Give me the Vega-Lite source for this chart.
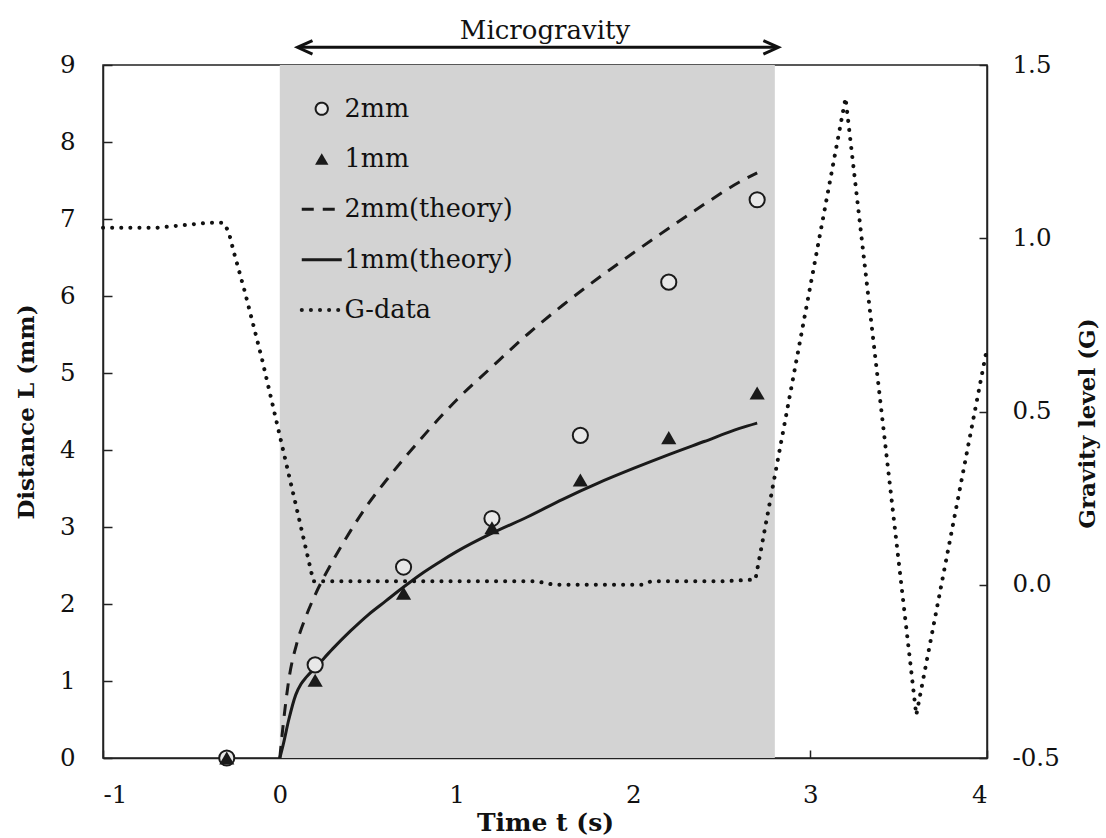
{
  "$schema": "https://vega.github.io/schema/vega-lite/v6.json",
  "width": 884,
  "height": 693,
  "autosize": {"type": "none"},
  "padding": {"left": 103, "top": 65, "right": 119, "bottom": 80},
  "background": "white",
  "title": {"text": "Microgravity", "frame": "group", "anchor": "middle", "offset": -30, "baseline": "alphabetic", "font": "DejaVu Serif", "fontSize": 26, "fontWeight": "normal", "color": "#111"},
  "datasets": {
    "points": [
      {"t": -0.3, "L": 0, "series": "2mm"},
      {"t": 0.2, "L": 1.21, "series": "2mm"},
      {"t": 0.7, "L": 2.48, "series": "2mm"},
      {"t": 1.2, "L": 3.11, "series": "2mm"},
      {"t": 1.7, "L": 4.19, "series": "2mm"},
      {"t": 2.2, "L": 6.18, "series": "2mm"},
      {"t": 2.7, "L": 7.25, "series": "2mm"},
      {"t": -0.3, "L": 0, "series": "1mm"},
      {"t": 0.2, "L": 1.01, "series": "1mm"},
      {"t": 0.7, "L": 2.14, "series": "1mm"},
      {"t": 1.2, "L": 2.99, "series": "1mm"},
      {"t": 1.7, "L": 3.61, "series": "1mm"},
      {"t": 2.2, "L": 4.16, "series": "1mm"},
      {"t": 2.7, "L": 4.74, "series": "1mm"}
    ],
    "theory": [
      {"t": 0, "L": 0, "series": "2mm(theory)"},
      {"t": 0.02, "L": 0.45, "series": "2mm(theory)"},
      {"t": 0.05, "L": 1.0, "series": "2mm(theory)"},
      {"t": 0.1, "L": 1.52, "series": "2mm(theory)"},
      {"t": 0.15, "L": 1.85, "series": "2mm(theory)"},
      {"t": 0.2, "L": 2.12, "series": "2mm(theory)"},
      {"t": 0.3, "L": 2.56, "series": "2mm(theory)"},
      {"t": 0.4, "L": 2.95, "series": "2mm(theory)"},
      {"t": 0.5, "L": 3.3, "series": "2mm(theory)"},
      {"t": 0.6, "L": 3.6, "series": "2mm(theory)"},
      {"t": 0.8, "L": 4.15, "series": "2mm(theory)"},
      {"t": 1.0, "L": 4.65, "series": "2mm(theory)"},
      {"t": 1.2, "L": 5.08, "series": "2mm(theory)"},
      {"t": 1.4, "L": 5.5, "series": "2mm(theory)"},
      {"t": 1.6, "L": 5.88, "series": "2mm(theory)"},
      {"t": 1.8, "L": 6.23, "series": "2mm(theory)"},
      {"t": 2.0, "L": 6.56, "series": "2mm(theory)"},
      {"t": 2.2, "L": 6.88, "series": "2mm(theory)"},
      {"t": 2.4, "L": 7.19, "series": "2mm(theory)"},
      {"t": 2.6, "L": 7.48, "series": "2mm(theory)"},
      {"t": 2.7, "L": 7.6, "series": "2mm(theory)"},
      {"t": 0, "L": 0, "series": "1mm(theory)"},
      {"t": 0.02, "L": 0.18, "series": "1mm(theory)"},
      {"t": 0.05, "L": 0.49, "series": "1mm(theory)"},
      {"t": 0.09, "L": 0.82, "series": "1mm(theory)"},
      {"t": 0.12, "L": 0.96, "series": "1mm(theory)"},
      {"t": 0.15, "L": 1.05, "series": "1mm(theory)"},
      {"t": 0.2, "L": 1.17, "series": "1mm(theory)"},
      {"t": 0.3, "L": 1.42, "series": "1mm(theory)"},
      {"t": 0.4, "L": 1.65, "series": "1mm(theory)"},
      {"t": 0.5, "L": 1.86, "series": "1mm(theory)"},
      {"t": 0.6, "L": 2.04, "series": "1mm(theory)"},
      {"t": 0.7, "L": 2.22, "series": "1mm(theory)"},
      {"t": 0.8, "L": 2.39, "series": "1mm(theory)"},
      {"t": 0.9, "L": 2.54, "series": "1mm(theory)"},
      {"t": 1.0, "L": 2.68, "series": "1mm(theory)"},
      {"t": 1.2, "L": 2.92, "series": "1mm(theory)"},
      {"t": 1.4, "L": 3.13, "series": "1mm(theory)"},
      {"t": 1.6, "L": 3.36, "series": "1mm(theory)"},
      {"t": 1.8, "L": 3.57, "series": "1mm(theory)"},
      {"t": 2.0, "L": 3.76, "series": "1mm(theory)"},
      {"t": 2.2, "L": 3.94, "series": "1mm(theory)"},
      {"t": 2.4, "L": 4.11, "series": "1mm(theory)"},
      {"t": 2.6, "L": 4.28, "series": "1mm(theory)"},
      {"t": 2.7, "L": 4.35, "series": "1mm(theory)"}
    ],
    "gdata": [
      {"t": -1.0, "G": 1.03},
      {"t": -0.9, "G": 1.03},
      {"t": -0.8, "G": 1.03},
      {"t": -0.7, "G": 1.03},
      {"t": -0.6, "G": 1.035},
      {"t": -0.5, "G": 1.04},
      {"t": -0.4, "G": 1.045},
      {"t": -0.32, "G": 1.045},
      {"t": -0.29, "G": 1.02},
      {"t": -0.26, "G": 0.96},
      {"t": -0.2, "G": 0.85},
      {"t": -0.1, "G": 0.65},
      {"t": 0.0, "G": 0.43},
      {"t": 0.1, "G": 0.21},
      {"t": 0.19, "G": 0.01},
      {"t": 0.3, "G": 0.01},
      {"t": 0.5, "G": 0.01},
      {"t": 0.7, "G": 0.01},
      {"t": 0.9, "G": 0.01},
      {"t": 1.1, "G": 0.01},
      {"t": 1.3, "G": 0.01},
      {"t": 1.45, "G": 0.01},
      {"t": 1.55, "G": 0.0},
      {"t": 1.7, "G": 0.0},
      {"t": 1.9, "G": 0.0},
      {"t": 2.05, "G": 0.0},
      {"t": 2.1, "G": 0.01},
      {"t": 2.3, "G": 0.01},
      {"t": 2.5, "G": 0.01},
      {"t": 2.69, "G": 0.015},
      {"t": 3.2, "G": 1.405},
      {"t": 3.6, "G": -0.376},
      {"t": 4.0, "G": 0.683}
    ]
  },
  "layer": [
    {
      "layer": [
        {
          "data": {"values": [{}]},
          "mark": {"type": "rect", "color": "#d3d3d3"},
          "encoding": {
            "x": {"datum": 0, "type": "quantitative", "scale": {"domain": [-1, 4], "nice": false, "zero": false}},
            "x2": {"datum": 2.8},
            "y": {"datum": 0, "type": "quantitative", "scale": {"domain": [0, 9], "nice": false}},
            "y2": {"datum": 9}
          }
        },
        {
          "data": {"values": [{}]},
          "mark": {"type": "rule", "color": "#111", "strokeWidth": 3},
          "encoding": {
            "x": {"datum": 0.11, "type": "quantitative"},
            "x2": {"datum": 2.81},
            "y": {"datum": 9.23, "type": "quantitative"}
          }
        },
        {
          "data": {"values": [{}]},
          "mark": {"type": "point", "shape": "M 1 -0.45 L 0 0 L 1 0.45", "size": 900, "filled": false, "stroke": "#111", "strokeWidth": 3, "opacity": 1},
          "encoding": {
            "x": {"datum": 0.1, "type": "quantitative"},
            "y": {"datum": 9.23, "type": "quantitative"}
          }
        },
        {
          "data": {"values": [{}]},
          "mark": {"type": "point", "shape": "M -1 -0.45 L 0 0 L -1 0.45", "size": 900, "filled": false, "stroke": "#111", "strokeWidth": 3, "opacity": 1},
          "encoding": {
            "x": {"datum": 2.82, "type": "quantitative"},
            "y": {"datum": 9.23, "type": "quantitative"}
          }
        },
        {
          "data": {"name": "theory"},
          "transform": [{"filter": "datum.series === '2mm(theory)'"}],
          "mark": {"type": "line", "strokeDash": [12, 9], "strokeWidth": 3, "interpolate": "monotone"},
          "encoding": {
            "x": {
              "field": "t", "type": "quantitative",
              "scale": {"domain": [-1, 4], "nice": false, "zero": false},
              "title": "Time t (s)",
              "axis": {
                "values": [-1, 0, 1, 2, 3, 4],
                "labelExpr": "datum.value < 0 ? '-' + format(-datum.value, 'd') : format(datum.value, 'd')",
                "tickSize": -8,
                "labelPadding": 33,
                "titleFontSize": 25,
                "titleX": 442, "titleY": 64, "titleBaseline": "middle", "titleAlign": "center"
              }
            },
            "y": {
              "field": "L", "type": "quantitative",
              "scale": {"domain": [0, 9], "nice": false},
              "title": "Distance L (mm)",
              "axis": {
                "values": [0, 1, 2, 3, 4, 5, 6, 7, 8, 9],
                "labelExpr": "format(datum.value, 'd')",
                "tickSize": -9,
                "labelPadding": 37,
                "titleAngle": 270, "titleX": -77, "titleY": 346.5, "titleBaseline": "middle", "titleAlign": "center"
              }
            },
            "color": {
              "field": "series", "type": "nominal",
              "scale": {"domain": ["2mm", "1mm", "2mm(theory)", "1mm(theory)", "G-data"], "range": ["#1a1a1a", "#1a1a1a", "#1a1a1a", "#1a1a1a", "#1a1a1a"]},
              "legend": {
                "orient": "none", "legendX": 206, "legendY": 31,
                "title": null, "padding": 0,
                "symbolSize": 1600, "rowPadding": 23.3, "labelOffset": 10, "labelLimit": 400,
                "labelFont": "DejaVu Serif", "labelFontSize": 25.5, "labelColor": "#111",
                "encode": {
                  "symbols": {
                    "update": {
                      "shape": {"signal": "datum.value === '2mm' ? 'circle' : datum.value === '1mm' ? 'triangle-up' : 'stroke'"},
                      "size": {"signal": "datum.value === '2mm' ? 150 : datum.value === '1mm' ? 180 : 1600"},
                      "fill": {"signal": "datum.value === '2mm' ? '#e8e8e8' : datum.value === '1mm' ? '#1a1a1a' : 'transparent'"},
                      "stroke": {"value": "#1a1a1a"},
                      "strokeWidth": {"signal": "datum.value === '2mm' ? 2 : datum.value === '1mm' ? 0 : datum.value === 'G-data' ? 4 : 3"},
                      "strokeDash": {"signal": "datum.value === '2mm(theory)' ? [12, 9] : datum.value === 'G-data' ? [0.1, 9] : [1, 0]"},
                      "strokeCap": {"signal": "datum.value === 'G-data' ? 'round' : 'butt'"},
                      "opacity": {"value": 1},
                      "fillOpacity": {"value": 1}
                    }
                  }
                }
              }
            }
          }
        },
        {
          "data": {"name": "theory"},
          "transform": [{"filter": "datum.series === '1mm(theory)'"}],
          "mark": {"type": "line", "color": "#1a1a1a", "strokeWidth": 3, "interpolate": "monotone"},
          "encoding": {
            "x": {"field": "t", "type": "quantitative"},
            "y": {"field": "L", "type": "quantitative"}
          }
        },
        {
          "data": {"name": "points"},
          "transform": [{"filter": "datum.series === '2mm'"}],
          "mark": {"type": "point", "shape": "circle", "filled": true, "fill": "#e8e8e8", "stroke": "#1a1a1a", "strokeWidth": 2, "size": 230, "opacity": 1},
          "encoding": {
            "x": {"field": "t", "type": "quantitative"},
            "y": {"field": "L", "type": "quantitative"}
          }
        },
        {
          "data": {"name": "points"},
          "transform": [{"filter": "datum.series === '1mm'"}],
          "mark": {"type": "point", "shape": "triangle-up", "filled": true, "fill": "#1a1a1a", "size": 230, "opacity": 1},
          "encoding": {
            "x": {"field": "t", "type": "quantitative"},
            "y": {"field": "L", "type": "quantitative"}
          }
        }
      ]
    },
    {
      "data": {"name": "gdata"},
      "mark": {"type": "line", "color": "#111", "strokeWidth": 4, "strokeDash": [0.1, 9], "strokeCap": "round"},
      "encoding": {
        "x": {"field": "t", "type": "quantitative", "scale": {"domain": [-1, 4], "nice": false, "zero": false}},
        "y": {
          "field": "G", "type": "quantitative",
          "scale": {"domain": [-0.5, 1.5], "nice": false, "zero": false},
          "title": "Gravity level (G)",
          "axis": {
            "orient": "right",
            "values": [-0.5, 0, 0.5, 1, 1.5],
            "labelExpr": "datum.value < 0 ? '-' + format(-datum.value, '.1f') : format(datum.value, '.1f')",
            "tickSize": -8,
            "labelPadding": 33,
            "titleAngle": 270, "titleX": 100, "titleY": 358, "titleBaseline": "middle", "titleAlign": "center"
          }
        }
      }
    }
  ],
  "resolve": {"scale": {"y": "independent"}},
  "config": {
    "view": {"stroke": "#222", "strokeWidth": 1.5},
    "axis": {
      "grid": false,
      "domainColor": "#222", "domainWidth": 1.5,
      "tickColor": "#222", "tickWidth": 1.5,
      "labelFont": "DejaVu Serif", "labelFontSize": 24.5, "labelColor": "#111",
      "titleFont": "DejaVu Serif", "titleFontSize": 23, "titleFontWeight": "bold", "titleColor": "#111"
    }
  }
}
